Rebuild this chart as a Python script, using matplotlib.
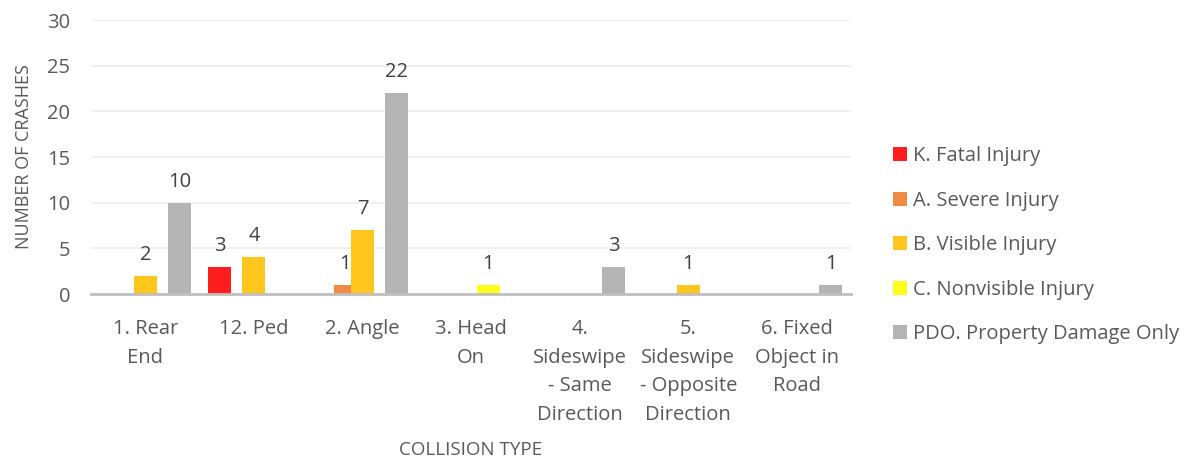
import numpy as np
import matplotlib.pyplot as plt
from matplotlib.patches import Patch

categories = ['1. Rear\nEnd', '12. Ped', '2. Angle', '3. Head\nOn',
              '4.\nSideswipe\n- Same\nDirection', '5.\nSideswipe\n- Opposite\nDirection',
              '6. Fixed\nObject in\nRoad']
series_names = ['K. Fatal Injury', 'A. Severe Injury', 'B. Visible Injury',
                'C. Nonvisible Injury', 'PDO. Property Damage Only']
fatal     = [0, 3, 0, 0, 0, 0, 0]
severe    = [0, 0, 1, 0, 0, 0, 0]
visible   = [2, 4, 7, 0, 0, 1, 0]
nonvis    = [0, 0, 0, 1, 0, 0, 0]
pdo       = [10, 0, 22, 0, 3, 0, 1]
colors = ['#FF1D1D', '#EF8B45', '#FFC61E', '#FFFF1E', '#B4B4B4']

plt.rcParams['font.family'] = ['Open Sans', 'DejaVu Sans']
text_col = '#595959'
fs = 14.5

fig = plt.figure(figsize=(11.98, 4.62), dpi=100)
ax = fig.add_axes([0.076, 0.3636, 0.6344, 0.5931])

x = np.arange(len(categories))
step = 0.1566
width = 0.212
all_series = [fatal, severe, visible, nonvis, pdo]
for k, (vals, col) in enumerate(zip(all_series, colors)):
    pos = x + (k - 2) * step
    ax.bar(pos, vals, width=width, color=col, zorder=2 + k)
    for px, v in zip(pos, vals):
        if v > 0:
            ax.annotate(str(v), (px, v), xytext=(0, 8), textcoords='offset points',
                        ha='center', va='bottom', fontsize=fs, color='#404040')

ax.set_xlim(-0.5, len(categories) - 0.5)
ax.set_ylim(0, 30)
ax.set_yticks(range(0, 31, 5))
ax.yaxis.grid(True, color='#EFEFEF', linewidth=1.3, zorder=0)
ax.set_axisbelow(True)
for s in ['top', 'right', 'left']:
    ax.spines[s].set_visible(False)
ax.spines['bottom'].set_color('#BFBFBF')
ax.spines['bottom'].set_linewidth(2)
ax.spines['bottom'].set_zorder(10)
ax.tick_params(axis='both', length=0, labelsize=fs, labelcolor=text_col)
ax.tick_params(axis='y', pad=15)
ax.tick_params(axis='x', pad=18)
ax.set_xticks(x)
ax.set_xticklabels(categories, linespacing=1.57)
ax.set_ylabel('NUMBER OF CRASHES', fontsize=13, color=text_col, labelpad=10)
ax.set_xlabel('COLLISION TYPE', fontsize=13.5, color=text_col, labelpad=12)

handles = [Patch(facecolor=c, edgecolor='none') for c in colors]
fig.legend(handles, series_names, loc='center left', bbox_to_anchor=(0.7454, 0.469),
           frameon=False, fontsize=fs, labelcolor=text_col, handlelength=0.7,
           handleheight=0.7, handletextpad=0.3, labelspacing=1.22, borderaxespad=0,
           borderpad=0)

fig.savefig('out.png', dpi=100)
